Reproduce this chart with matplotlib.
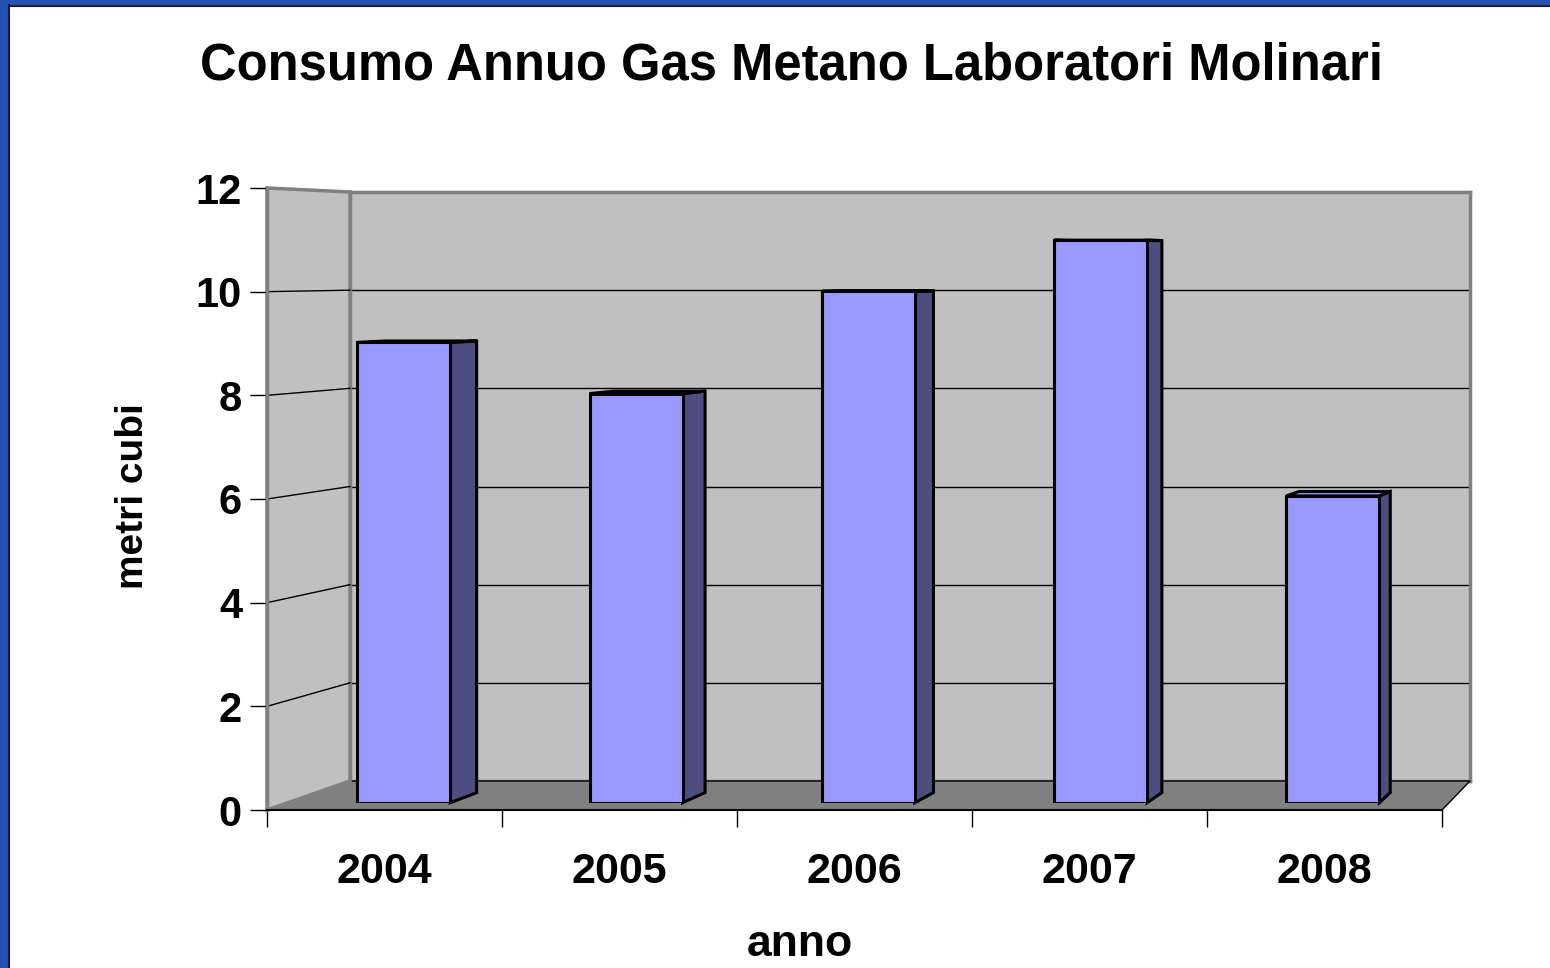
import matplotlib
matplotlib.use("Agg")
import matplotlib.pyplot as plt
import numpy as np
from matplotlib.patches import Polygon, Rectangle
from matplotlib.lines import Line2D

plt.rcParams["font.family"] = ["Liberation Sans", "DejaVu Sans"]
plt.rcParams["font.weight"] = "bold"

# ---- Data ----
anni = ["2004", "2005", "2006", "2007", "2008"]
consumo = [9, 8, 10, 11, 6]
y_ticks = [0, 2, 4, 6, 8, 10, 12]

# ---- Colours ----
c_front = "#9999FF"
c_side = "#4D4D80"
c_wall = "#C0C0C0"
c_floor = "#808080"
c_edge = "#808080"
c_slide = "#2452B0"

W, H = 1550, 968
fig = plt.figure(figsize=(W / 100, H / 100), dpi=100, facecolor="white")


def px_rect(left, top, right, bottom):
    return [left / W, 1 - bottom / H, (right - left) / W, (bottom - top) / H]


def mix(a, b, t):
    return tuple((1 - t) * p + t * q for p, q in zip(a, b))


# front plane (value axis) and back wall, in pixels: left, top, right, bottom
front_px = (267, 188, 1442, 810)
back_px = (350, 192, 1470, 781)
f0, f1 = 0.25, 0.6     # bar front / back depth (0 = front, 1 = back wall)
bar_w = 0.4

ax_back = fig.add_axes(px_rect(*back_px), zorder=0)
ax_front = fig.add_axes(px_rect(*front_px), zorder=1)
ax_bars = fig.add_axes(px_rect(*mix(front_px, back_px, f0)), zorder=2)

x = np.arange(len(anni))
for ax in (ax_back, ax_front, ax_bars):
    ax.set_xlim(-0.5, len(anni) - 0.5)
    ax.set_ylim(0, 12)

to_fig = fig.transFigure.inverted()


def P(xv, v, f):
    # point at category xv, value v, depth f -> figure coords
    a = to_fig.transform(ax_front.transData.transform((xv, v)))
    b = to_fig.transform(ax_back.transData.transform((xv, v)))
    return (1 - f) * a + f * b


# ---- back wall ----
ax_back.set_facecolor(c_wall)
ax_back.set_yticks(y_ticks)
ax_back.set_xticks([])
ax_back.grid(axis="y", color="black", linewidth=1)
ax_back.tick_params(length=0, labelleft=False, labelbottom=False)
for sp in ax_back.spines.values():
    sp.set_color(c_edge)
    sp.set_linewidth(2.5)

# ---- front plane: floor, left wall, axis ----
ax_front.patch.set_visible(False)
x0, x1 = -0.5, len(anni) - 0.5

floor = Polygon([P(x0, 0, 0), P(x1, 0, 0), P(x1, 0, 1), P(x0, 0, 1)],
                closed=True, transform=fig.transFigure, facecolor=c_floor,
                edgecolor="black", linewidth=1, clip_on=False, zorder=0.5)
ax_front.add_artist(floor)

left_wall = Polygon([P(x0, 0, 0), P(x0, 12, 0), P(x0, 12, 1), P(x0, 0, 1)],
                    closed=True, transform=fig.transFigure, facecolor=c_wall,
                    edgecolor=c_edge, linewidth=2.5, clip_on=False, zorder=0.6)
ax_front.add_artist(left_wall)

for v in y_ticks[1:-1]:
    a, b = P(x0, v, 0), P(x0, v, 1)
    ax_front.add_artist(Line2D([a[0], b[0]], [a[1], b[1]], color="black",
                               linewidth=1, transform=fig.transFigure,
                               clip_on=False, zorder=0.7))

for side in ("top", "right"):
    ax_front.spines[side].set_visible(False)
ax_front.spines["left"].set_color(c_edge)
ax_front.spines["left"].set_linewidth(2.5)
ax_front.spines["bottom"].set_color("black")
ax_front.spines["bottom"].set_linewidth(1.5)

ax_front.set_yticks(y_ticks)
ax_front.set_yticklabels([str(t) for t in y_ticks], fontsize=30, fontweight="bold")
ax_front.tick_params(axis="y", length=12, width=1, color="black", pad=6)

ax_front.set_xticks(np.arange(len(anni) + 1) - 0.5)
ax_front.set_xticklabels([])
ax_front.tick_params(axis="x", which="major", length=12, width=1, color="black")
ax_front.set_xticks(x, minor=True)
ax_front.set_xticklabels(anni, minor=True, fontsize=31, fontweight="bold")
ax_front.tick_params(axis="x", which="minor", length=0, pad=30)

# ---- bars ----
ax_bars.axis("off")
ax_bars.bar(x, consumo, width=bar_w, color=c_front, edgecolor="black",
            linewidth=2.2, zorder=3)
for xi, v in zip(x, consumo):
    lft, rgt = xi - bar_w / 2, xi + bar_w / 2
    side = Polygon([P(rgt, 0, f0), P(rgt, v, f0), P(rgt, v, f1), P(rgt, 0, f1)],
                   closed=True, transform=fig.transFigure, facecolor=c_side,
                   edgecolor="black", linewidth=2.2, clip_on=False, zorder=2)
    top = Polygon([P(lft, v, f0), P(rgt, v, f0), P(rgt, v, f1), P(lft, v, f1)],
                  closed=True, transform=fig.transFigure, facecolor=c_front,
                  edgecolor="black", linewidth=2.2, clip_on=False, zorder=2)
    ax_bars.add_artist(side)
    ax_bars.add_artist(top)

# ---- texts ----
fig.text(792 / W, 1 - 80 / H, "Consumo Annuo Gas Metano Laboratori Molinari",
         ha="center", va="baseline", fontsize=36.5, fontweight="bold")
fig.text(133 / W, 1 - 496 / H, "metri cubi", rotation=90,
         ha="center", va="center", fontsize=28, fontweight="bold")
fig.text(800 / W, 1 - 956 / H, "anno", ha="center", va="baseline",
         fontsize=32, fontweight="bold")

# ---- slide border ----
fig.add_artist(Rectangle((0, 0), 8 / W, 1, transform=fig.transFigure,
                         color=c_slide, zorder=5))
fig.add_artist(Rectangle((0, 1 - 5 / H), 1, 5 / H, transform=fig.transFigure,
                         color=c_slide, zorder=5))
fig.add_artist(Line2D([8.5 / W, 8.5 / W], [0, 1 - 5 / H], color="#1A1A40",
                      linewidth=1.5, transform=fig.transFigure, zorder=6))
fig.add_artist(Line2D([8.5 / W, 1], [1 - 5.5 / H, 1 - 5.5 / H], color="#1A1A40",
                      linewidth=1.5, transform=fig.transFigure, zorder=6))

fig.savefig("out.png", dpi=100, facecolor="white")
